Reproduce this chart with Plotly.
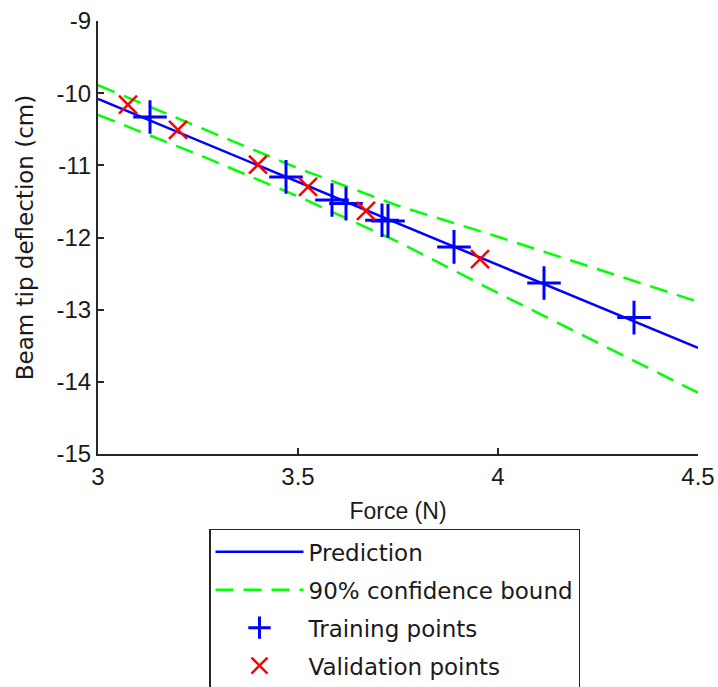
import plotly.graph_objects as go

# Prediction line (read at the ends of the plotted range)
pred_x = [3.0, 4.5]
pred_y = [-10.08, -13.53]

# 90% confidence bounds
bound_x = [3.0, 3.25, 3.5, 3.75, 4.0, 4.25, 4.5]
upper_y = [-9.89, -10.47, -11.04, -11.56, -11.99, -12.44, -12.89]
lower_y = [-10.30, -10.85, -11.43, -12.06, -12.77, -13.46, -14.15]

# Training points
train_x = [3.13, 3.47, 3.585, 3.62, 3.71, 3.725, 3.89, 4.115, 4.34]
train_y = [-10.33, -11.16, -11.48, -11.53, -11.76, -11.77, -12.13, -12.63, -13.11]

# Validation points
val_x = [3.075, 3.20, 3.40, 3.525, 3.67, 3.955]
val_y = [-10.16, -10.51, -10.99, -11.30, -11.63, -12.30]

x_ticks = [3, 3.5, 4, 4.5]
x_ticktext = ["3", "3.5", "4", "4.5"]
y_ticks = [-15, -14, -13, -12, -11, -10, -9]
y_ticktext = ["-15", "-14", "-13", "-12", "-11", "-10", "-9"]

fig = go.Figure()
fig.add_trace(go.Scatter(x=pred_x, y=pred_y, mode="lines", name="Prediction",
                         line=dict(color="#0000ff", width=2.5), legendgroup="a"))
fig.add_trace(go.Scatter(x=bound_x, y=upper_y, mode="lines", name="90% confidence bound",
                         line=dict(color="#00ff00", width=2.5, dash="18px,10px"),
                         legendgroup="b"))
fig.add_trace(go.Scatter(x=bound_x, y=lower_y, mode="lines", name="90% confidence bound",
                         line=dict(color="#00ff00", width=2.5, dash="18px,10px"),
                         showlegend=False, legendgroup="b"))
fig.add_trace(go.Scatter(x=train_x, y=train_y, mode="markers", name="Training points",
                         marker=dict(symbol="cross-thin", size=24,
                                     line=dict(color="#0000ff", width=3)),
                         legendgroup="c"))
fig.add_trace(go.Scatter(x=val_x, y=val_y, mode="markers", name="Validation points",
                         marker=dict(symbol="x-thin", size=18,
                                     line=dict(color="#ff0000", width=2.5)),
                         legendgroup="d"))

axis_common = dict(showgrid=False, zeroline=False, showline=True, linecolor="#262626",
                   linewidth=2, ticks="inside", ticklen=6, tickwidth=2, tickcolor="#262626",
                   tickfont=dict(family="Liberation Sans, Arial", size=24, color="#1a1a1a"))

fig.update_layout(
    width=718, height=687,
    margin=dict(l=98, r=20, t=21, b=233, autoexpand=False),
    paper_bgcolor="white", plot_bgcolor="white",
    xaxis=dict(range=[3, 4.5], tickvals=x_ticks, ticktext=x_ticktext,
               title=dict(text="Force (N)", font=dict(family="Liberation Sans, Arial", size=23, color="#1a1a1a"),
                          standoff=14),
               **axis_common),
    yaxis=dict(range=[-15, -9], tickvals=y_ticks, ticktext=y_ticktext,
               title=dict(text="Beam tip deflection (cm)",
                          font=dict(family="DejaVu Sans", size=23, color="#1a1a1a"), standoff=16),
               **axis_common),
    showlegend=True,
    legend=dict(x=0.185, y=-0.173, xanchor="left", yanchor="top",
                bordercolor="#262626", borderwidth=1.5, bgcolor="white",
                font=dict(family="DejaVu Sans", size=23, color="#1a1a1a"),
                itemwidth=88, tracegroupgap=5, traceorder="grouped"),
)

fig.write_html("out.html")
